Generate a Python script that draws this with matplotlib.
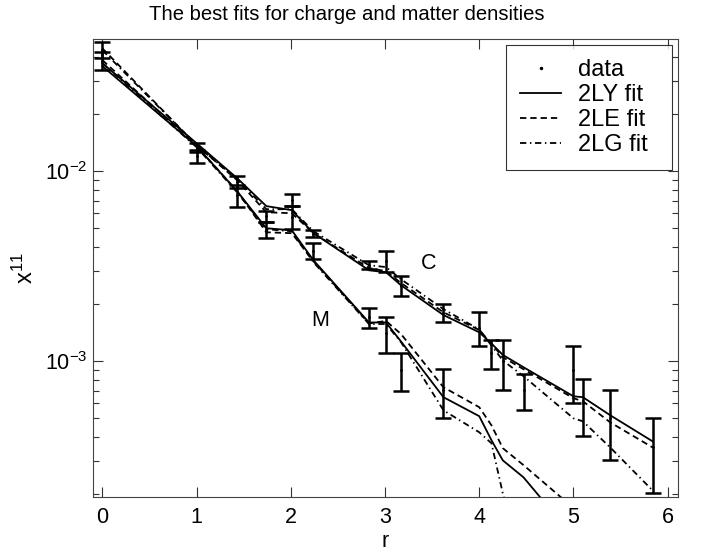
import numpy as np
import matplotlib
matplotlib.use("Agg")
import matplotlib.pyplot as plt
from matplotlib.ticker import LogLocator, FixedLocator, NullFormatter
from matplotlib.lines import Line2D

plt.rcParams['font.family'] = ['Liberation Sans', 'DejaVu Sans']
plt.rcParams['mathtext.fontset'] = 'custom'
plt.rcParams['mathtext.rm'] = 'Liberation Sans'
plt.rcParams['mathtext.it'] = 'Liberation Sans'
plt.rcParams['mathtext.bf'] = 'Liberation Sans'

# ---------------- data ----------------
r_fit = [0, 1.0, 1.43, 1.74, 2.01, 2.24, 2.83, 3.01, 3.17, 3.62, 4.0, 4.13, 4.25, 4.47, 5.0, 5.1, 5.39, 5.84]

C_2LY = [0.0370, 0.01403, 0.00919, 0.00655, 0.00624, 0.00472, 0.00301, 0.00294, 0.00251, 0.00175,
         0.00142, 0.00124, 0.00108, 0.00093, 0.000654, 0.000647, 0.000520, 0.000379]
C_2LE = [0.0443, 0.01371, 0.00897, 0.00608, 0.00601, 0.00472, 0.00309, 0.00298, 0.00258, 0.00181,
         0.00146, 0.00124, 0.00105, 0.000908, 0.000639, 0.000616, 0.000477, 0.000352]
C_2LG = [0.0433, 0.01371, 0.00908, 0.00631, 0.00631, 0.00483, 0.00320, 0.00313, 0.00270, 0.00188,
         0.00147, 0.00121, 0.00101, 0.000834, 0.000501, 0.000483, 0.000352, 0.000209]

M_2LY = [0.0357, 0.01355, 0.00785, 0.00501, 0.00489, 0.00340, 0.00160, 0.00160, 0.00127, 0.000647,
         0.000514, 0.000384, 0.000301, 0.000245, 0.000119, 0.000110, 0.0000850, 0.0000560]
M_2LE = [0.0384, 0.01355, 0.00785, 0.00477, 0.00472, 0.00336, 0.00158, 0.00163, 0.00139, 0.000730,
         0.000573, 0.000460, 0.000349, 0.000284, 0.000169, 0.000155, 0.000120, 0.0000900]
M_2LG = [0.0370, 0.01337, 0.00775, 0.00495, 0.00483, 0.00332, 0.00157, 0.00157, 0.00126, 0.000552,
         0.000423, 0.000370, 0.000202, 0.0000800, 0.0000300, 0.0000200, 0.0000100, 0.0000050]

r_C = [0, 1.0, 1.43, 1.74, 2.01, 2.24, 2.83, 3.01, 3.17, 3.62, 4.0, 4.13, 4.25, 4.47, 5.0, 5.1, 5.39, 5.84]
C_data = [0.0435, 0.0133, 0.00878, 0.00578, 0.00706, 0.00470, 0.00320, 0.00337, 0.00250, 0.00180,
          0.001505, 0.00110, 0.000997, 0.000704, 0.00090, 0.000604, 0.000502, 0.000352]
C_err = [0.0042, 0.0007, 0.00064, 0.00039, 0.00051, 0.00020, 0.00016, 0.00043, 0.00030, 0.00020,
         0.000305, 0.00019, 0.000293, 0.000152, 0.00030, 0.00020, 0.000201, 0.00015]

r_M = [0, 1.0, 1.43, 1.74, 2.01, 2.24, 2.83, 3.01, 3.17, 3.62]
M_data = [0.0382, 0.01197, 0.00746, 0.00492, 0.00575, 0.00381, 0.00170, 0.00140, 0.00090, 0.000705]
M_err = [0.0042, 0.00095, 0.00099, 0.00048, 0.00080, 0.00037, 0.00020, 0.00030, 0.00020, 0.000204]

x_ticks = [0, 1, 2, 3, 4, 5, 6]
legend_labels = ['data', '2LY fit', '2LE fit', '2LG fit']
title = "The best fits for charge and matter densities"

# ---------------- plot ----------------
fig = plt.figure(figsize=(7.07, 5.52), dpi=100)
ax = fig.add_axes([0.1315, 0.0996, 0.8275, 0.8294])

lw = 1.3
dash = (3.5, 2.2)
dashdot = (3.5, 2.0, 0.8, 2.0)

for r, d, e in [(r_C, C_data, C_err), (r_M, M_data, M_err)]:
    ax.errorbar(r, d, yerr=e, fmt='none', ecolor='black', elinewidth=1.8, capsize=6, capthick=1.8)
    ax.plot(r, d, linestyle='none', marker='.', color='black', markersize=2)

ax.plot(r_fit, C_2LY, color='black', lw=lw)
ax.plot(r_fit, C_2LE, color='black', lw=lw, dashes=dash)
ax.plot(r_fit, C_2LG, color='black', lw=lw, dashes=dashdot)
ax.plot(r_fit, M_2LY, color='black', lw=lw)
ax.plot(r_fit, M_2LE, color='black', lw=lw, dashes=dash)
ax.plot(r_fit, M_2LG, color='black', lw=lw, dashes=dashdot)

ax.set_yscale('log')
ax.set_xlim(-0.1, 6.11)
ax.set_ylim(1.93e-4, 0.0495)
ax.xaxis.set_major_locator(FixedLocator(x_ticks))
ax.yaxis.set_major_locator(LogLocator(base=10, numticks=10))
ax.yaxis.set_minor_locator(LogLocator(base=10, subs=np.arange(2, 10), numticks=20))
ax.yaxis.set_minor_formatter(NullFormatter())

ax.tick_params(which='both', direction='in', top=True, right=True, labelsize=15.5, color='#333333')
ax.tick_params(axis='x', which='major', pad=7)
ax.tick_params(axis='y', which='major', pad=4)
ax.tick_params(which='major', length=7, width=0.8)
ax.tick_params(which='minor', length=4, width=0.8)
for s in ax.spines.values():
    s.set_linewidth(0.8)
    s.set_color('#444444')

ax.text(3.46, 0.00328, 'C', fontsize=15.5, ha='center', va='center')
ax.text(2.31, 0.00163, 'M', fontsize=15.5, ha='center', va='center')

fig.text(0.491, 0.973, title, fontsize=14.6, ha='center', va='center')
ax.set_xlabel('r', fontsize=15.5, labelpad=2)
ax.set_ylabel(r'x$^{11}$', fontsize=17, labelpad=5)

handles = [
    Line2D([], [], linestyle='none', marker='.', color='black', markersize=3),
    Line2D([], [], color='black', lw=lw),
    Line2D([], [], color='black', lw=lw, dashes=dash),
    Line2D([], [], color='black', lw=lw, dashes=dashdot),
]
leg = ax.legend(handles, legend_labels, loc='upper left',
                bbox_to_anchor=(0.706, 0.5, 0.284, 0.487), mode='expand',
                fontsize=17, frameon=True, fancybox=False, edgecolor='black',
                handlelength=1.75, handletextpad=0.7, labelspacing=0.12,
                borderaxespad=0.0, borderpad=0.6)
leg.get_frame().set_linewidth(0.8)

fig.savefig('out.png', dpi=100)
